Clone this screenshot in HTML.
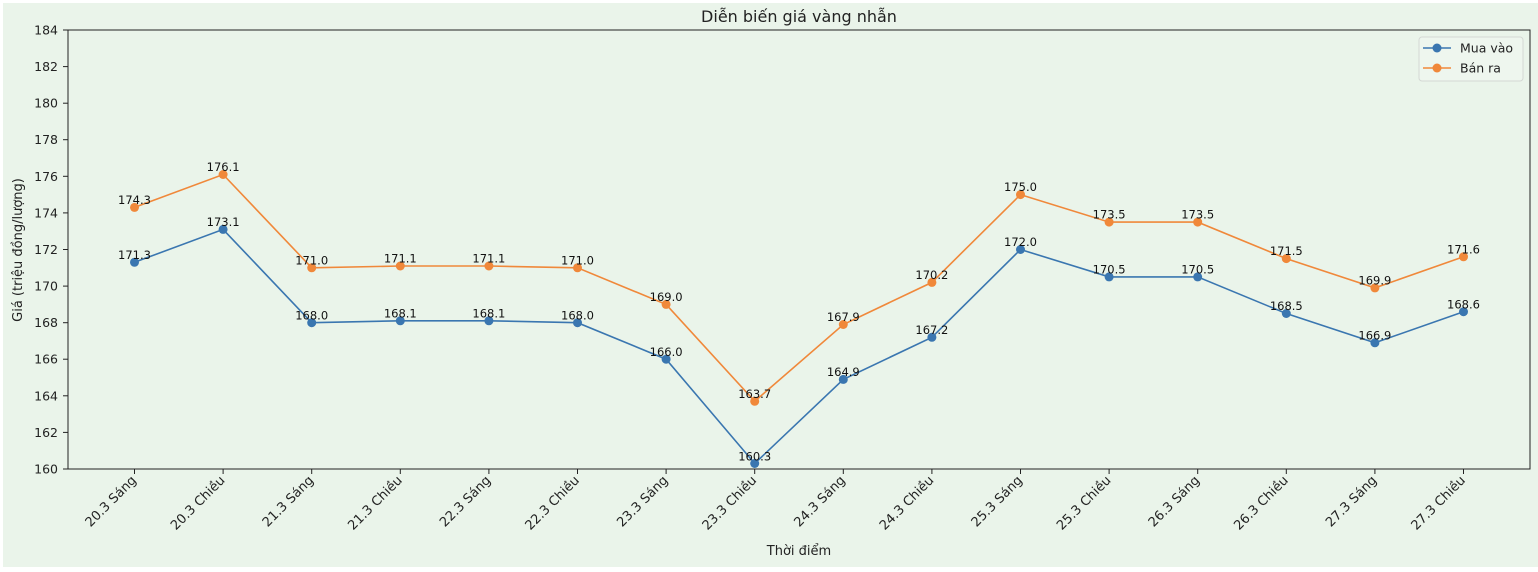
<!DOCTYPE html>
<html><head><meta charset="utf-8"><style>
html,body{margin:0;padding:0;background:#fff;}
svg{display:block;font-family:"DejaVu Sans","Liberation Sans",sans-serif;}
</style></head><body>
<svg width="1538" height="572" xmlns="http://www.w3.org/2000/svg">
<rect x="3" y="3" width="1535" height="564" fill="#eaf4ea"/>
<text x="799" y="22" font-size="16" text-anchor="middle" fill="#222">Diễn biến giá vàng nhẫn</text>
<g stroke="#222" stroke-width="1">
<line x1="63" y1="30" x2="68" y2="30"/><line x1="63" y1="66.6" x2="68" y2="66.6"/><line x1="63" y1="103.2" x2="68" y2="103.2"/><line x1="63" y1="139.7" x2="68" y2="139.7"/><line x1="63" y1="176.3" x2="68" y2="176.3"/><line x1="63" y1="212.9" x2="68" y2="212.9"/><line x1="63" y1="249.5" x2="68" y2="249.5"/><line x1="63" y1="286.1" x2="68" y2="286.1"/><line x1="63" y1="322.7" x2="68" y2="322.7"/><line x1="63" y1="359.2" x2="68" y2="359.2"/><line x1="63" y1="395.8" x2="68" y2="395.8"/><line x1="63" y1="432.4" x2="68" y2="432.4"/><line x1="63" y1="469" x2="68" y2="469"/>
</g>
<g font-size="12.5" fill="#222" text-anchor="end">
<text x="58" y="34.5">184</text><text x="58" y="71.1">182</text><text x="58" y="107.7">180</text><text x="58" y="144.2">178</text><text x="58" y="180.8">176</text><text x="58" y="217.4">174</text><text x="58" y="254">172</text><text x="58" y="290.6">170</text><text x="58" y="327.2">168</text><text x="58" y="363.7">166</text><text x="58" y="400.3">164</text><text x="58" y="436.9">162</text><text x="58" y="473.5">160</text>
</g>
<text transform="translate(22,250) rotate(-90)" font-size="13" fill="#222" text-anchor="middle">Giá (triệu đồng/lượng)</text>
<g stroke="#222" stroke-width="1">
<line x1="134.5" y1="469" x2="134.5" y2="474"/><line x1="223.1" y1="469" x2="223.1" y2="474"/><line x1="311.7" y1="469" x2="311.7" y2="474"/><line x1="400.3" y1="469" x2="400.3" y2="474"/><line x1="488.9" y1="469" x2="488.9" y2="474"/><line x1="577.5" y1="469" x2="577.5" y2="474"/><line x1="666.1" y1="469" x2="666.1" y2="474"/><line x1="754.7" y1="469" x2="754.7" y2="474"/><line x1="843.3" y1="469" x2="843.3" y2="474"/><line x1="931.9" y1="469" x2="931.9" y2="474"/><line x1="1020.5" y1="469" x2="1020.5" y2="474"/><line x1="1109.1" y1="469" x2="1109.1" y2="474"/><line x1="1197.7" y1="469" x2="1197.7" y2="474"/><line x1="1286.3" y1="469" x2="1286.3" y2="474"/><line x1="1374.9" y1="469" x2="1374.9" y2="474"/><line x1="1463.5" y1="469" x2="1463.5" y2="474"/>
</g>
<g font-size="13" fill="#222" text-anchor="end">
<text transform="translate(137,481) rotate(-45)">20.3 Sáng</text>
<text transform="translate(225.6,481) rotate(-45)">20.3 Chiều</text>
<text transform="translate(314.2,481) rotate(-45)">21.3 Sáng</text>
<text transform="translate(402.8,481) rotate(-45)">21.3 Chiều</text>
<text transform="translate(491.4,481) rotate(-45)">22.3 Sáng</text>
<text transform="translate(580,481) rotate(-45)">22.3 Chiều</text>
<text transform="translate(668.6,481) rotate(-45)">23.3 Sáng</text>
<text transform="translate(757.2,481) rotate(-45)">23.3 Chiều</text>
<text transform="translate(845.8,481) rotate(-45)">24.3 Sáng</text>
<text transform="translate(934.4,481) rotate(-45)">24.3 Chiều</text>
<text transform="translate(1023,481) rotate(-45)">25.3 Sáng</text>
<text transform="translate(1111.6,481) rotate(-45)">25.3 Chiều</text>
<text transform="translate(1200.2,481) rotate(-45)">26.3 Sáng</text>
<text transform="translate(1288.8,481) rotate(-45)">26.3 Chiều</text>
<text transform="translate(1377.4,481) rotate(-45)">27.3 Sáng</text>
<text transform="translate(1466,481) rotate(-45)">27.3 Chiều</text>
</g>
<text x="799" y="555" font-size="13" fill="#222" text-anchor="middle">Thời điểm</text>

<polyline fill="none" stroke="#3a76b0" stroke-width="1.6" points="134.5,262.3 223.1,229.4 311.7,322.7 400.3,320.8 488.9,320.8 577.5,322.7 666.1,359.2 754.7,463.5 843.3,379.4 931.9,337.3 1020.5,249.5 1109.1,276.9 1197.7,276.9 1286.3,313.5 1374.9,342.8 1463.5,311.7"/>
<polyline fill="none" stroke="#f0883a" stroke-width="1.6" points="134.5,207.4 223.1,174.5 311.7,267.8 400.3,266 488.9,266 577.5,267.8 666.1,304.4 754.7,401.3 843.3,324.5 931.9,282.4 1020.5,194.6 1109.1,222.1 1197.7,222.1 1286.3,258.6 1374.9,287.9 1463.5,256.8"/>
<g fill="#3a76b0">
<circle cx="134.5" cy="262.3" r="4.5"/><circle cx="223.1" cy="229.4" r="4.5"/><circle cx="311.7" cy="322.7" r="4.5"/><circle cx="400.3" cy="320.8" r="4.5"/><circle cx="488.9" cy="320.8" r="4.5"/><circle cx="577.5" cy="322.7" r="4.5"/><circle cx="666.1" cy="359.2" r="4.5"/><circle cx="754.7" cy="463.5" r="4.5"/><circle cx="843.3" cy="379.4" r="4.5"/><circle cx="931.9" cy="337.3" r="4.5"/><circle cx="1020.5" cy="249.5" r="4.5"/><circle cx="1109.1" cy="276.9" r="4.5"/><circle cx="1197.7" cy="276.9" r="4.5"/><circle cx="1286.3" cy="313.5" r="4.5"/><circle cx="1374.9" cy="342.8" r="4.5"/><circle cx="1463.5" cy="311.7" r="4.5"/>
</g>
<g fill="#f0883a">
<circle cx="134.5" cy="207.4" r="4.5"/><circle cx="223.1" cy="174.5" r="4.5"/><circle cx="311.7" cy="267.8" r="4.5"/><circle cx="400.3" cy="266" r="4.5"/><circle cx="488.9" cy="266" r="4.5"/><circle cx="577.5" cy="267.8" r="4.5"/><circle cx="666.1" cy="304.4" r="4.5"/><circle cx="754.7" cy="401.3" r="4.5"/><circle cx="843.3" cy="324.5" r="4.5"/><circle cx="931.9" cy="282.4" r="4.5"/><circle cx="1020.5" cy="194.6" r="4.5"/><circle cx="1109.1" cy="222.1" r="4.5"/><circle cx="1197.7" cy="222.1" r="4.5"/><circle cx="1286.3" cy="258.6" r="4.5"/><circle cx="1374.9" cy="287.9" r="4.5"/><circle cx="1463.5" cy="256.8" r="4.5"/>
</g>
<g font-size="11.5" fill="#111" text-anchor="middle">
<text x="134.5" y="259">171.3</text><text x="223.1" y="226">173.1</text><text x="311.7" y="319.5">168.0</text><text x="400.3" y="317.5">168.1</text><text x="488.9" y="317.5">168.1</text><text x="577.5" y="319.5">168.0</text><text x="666.1" y="356">166.0</text><text x="754.7" y="460.5">160.3</text><text x="843.3" y="376">164.9</text><text x="931.9" y="334">167.2</text><text x="1020.5" y="246">172.0</text><text x="1109.1" y="273.5">170.5</text><text x="1197.7" y="273.5">170.5</text><text x="1286.3" y="310">168.5</text><text x="1374.9" y="339.5">166.9</text><text x="1463.5" y="308.5">168.6</text>
<text x="134.5" y="204">174.3</text><text x="223.1" y="171">176.1</text><text x="311.7" y="264.5">171.0</text><text x="400.3" y="262.5">171.1</text><text x="488.9" y="262.5">171.1</text><text x="577.5" y="264.5">171.0</text><text x="666.1" y="301">169.0</text><text x="754.7" y="398">163.7</text><text x="843.3" y="321">167.9</text><text x="931.9" y="279">170.2</text><text x="1020.5" y="191">175.0</text><text x="1109.1" y="218.5">173.5</text><text x="1197.7" y="218.5">173.5</text><text x="1286.3" y="255">171.5</text><text x="1374.9" y="284.5">169.9</text><text x="1463.5" y="253.5">171.6</text>
</g>
<rect x="68" y="30" width="1462" height="439" fill="none" stroke="#222" stroke-width="1"/>
<rect x="1419" y="37" width="104" height="44" rx="3" fill="#eef6ee" stroke="#d4d8d4"/>
<line x1="1423" y1="48" x2="1451" y2="48" stroke="#3a76b0" stroke-width="1.6"/><circle cx="1437" cy="48" r="4.5" fill="#3a76b0"/>
<line x1="1423" y1="68" x2="1451" y2="68" stroke="#f0883a" stroke-width="1.6"/><circle cx="1437" cy="68" r="4.5" fill="#f0883a"/>
<text x="1460" y="52.5" font-size="12.5" fill="#222">Mua vào</text>
<text x="1460" y="72.5" font-size="12.5" fill="#222">Bán ra</text>
</svg>
</body></html>
